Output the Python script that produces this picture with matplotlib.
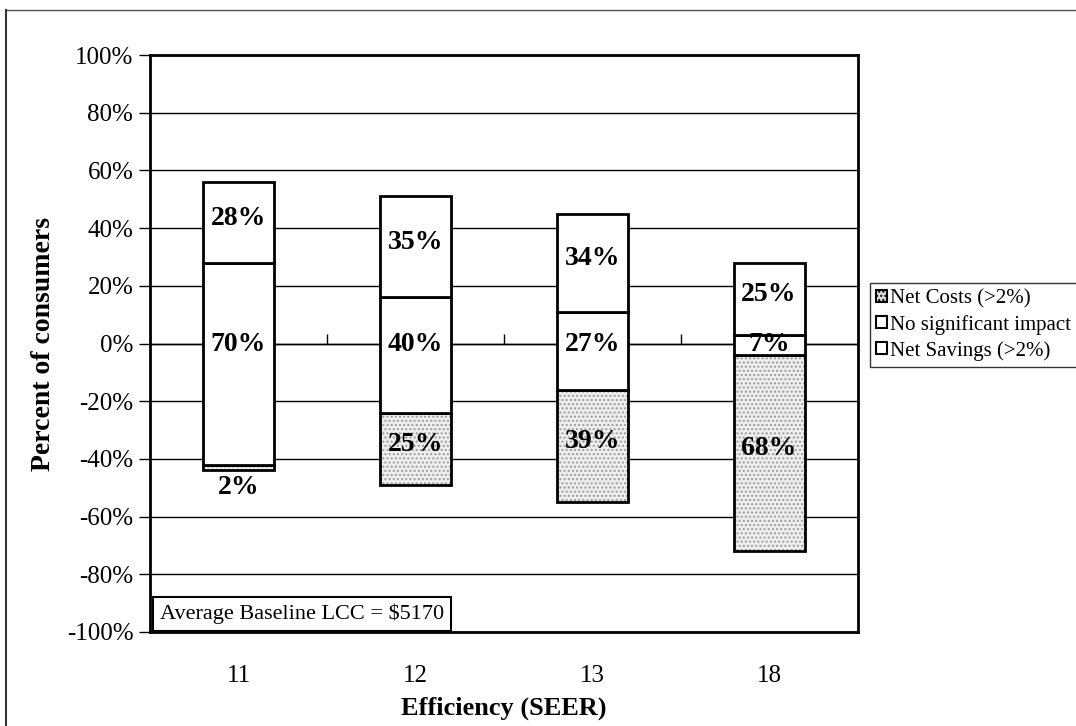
import numpy as np
import matplotlib
matplotlib.use("Agg")
import matplotlib.pyplot as plt
from matplotlib.patches import Patch
from matplotlib.lines import Line2D

plt.rcParams['font.family'] = ['Liberation Serif', 'DejaVu Serif']

# Consumer LCC impact by efficiency level
seer = ['11', '12', '13', '18']
net_costs = [2, 25, 39, 68]
no_impact = [70, 40, 27, 7]
net_savings = [28, 35, 34, 25]
# bottom of each stacked bar (hidden offset series)
offset = [-44, -49, -55, -72]

fig = plt.figure(figsize=(10.76, 7.26), dpi=100)
ax = fig.add_axes([0.1394, 0.1295, 0.6576, 0.7947])

x = np.arange(len(seer))
width = 0.4
costs = np.array(net_costs)
impact = np.array(no_impact)
savings = np.array(net_savings)
base = np.array(offset)

# stippled fill for net costs, then outlines
ax.bar(x, costs, width, bottom=base, facecolor='#eeeeee', edgecolor='#9c9c9c',
       hatch='....', linewidth=0, zorder=2)
ax.bar(x, costs, width, bottom=base, facecolor='none', edgecolor='black',
       linewidth=2, zorder=3)
ax.bar(x, impact, width, bottom=base + costs, facecolor='white',
       edgecolor='black', linewidth=2, zorder=3)
ax.bar(x, savings, width, bottom=base + costs + impact, facecolor='white',
       edgecolor='black', linewidth=2, zorder=3)

lbl = dict(ha='center', va='center', fontsize=20, fontweight='bold', zorder=5)
for i in range(len(seer)):
    top = base[i] + costs[i] + impact[i]
    ax.text(x[i], top + savings[i] / 2 + 1.5, f'{savings[i]}%', **lbl)
    ax.text(x[i], -0.5, f'{impact[i]}%', **lbl)
    if costs[i] < 5:
        ax.text(x[i], base[i] - 6, f'{costs[i]}%', **lbl)
    else:
        ax.text(x[i], base[i] + costs[i] / 2 + 1.5, f'{costs[i]}%', **lbl)

ax.set_xlim(-0.5, len(seer) - 0.5)
ax.set_ylim(-100, 100)
ax.set_yticks(np.arange(-100, 101, 20))
ax.set_yticklabels([f'{v}%' for v in range(-100, 101, 20)], fontsize=18)
ax.yaxis.grid(True, color='black', linewidth=1)
ax.set_axisbelow(True)
ax.tick_params(axis='y', length=8, width=1, pad=4)
ax.set_xticks(x)
ax.set_xticklabels(seer, fontsize=18)
ax.tick_params(axis='x', length=0, pad=24)
for s in ax.spines.values():
    s.set_linewidth(2)

# category axis crosses at zero with boundary ticks
ax.axhline(0, color='black', linewidth=1, zorder=1)
zax = ax.secondary_xaxis(0.5)
zax.set_xticks(np.arange(0.5, len(seer) - 1, 1.0))
zax.set_xticklabels([])
zax.tick_params(length=7, width=1, direction='out')
zax.spines['bottom'].set_visible(False)

ax.set_ylabel('Percent of consumers', fontsize=20, fontweight='bold', labelpad=8)
ax.set_xlabel('Efficiency (SEER)', fontsize=19, fontweight='bold', labelpad=7)

ax.text(0.014, -97.4, 'Average Baseline LCC = $5170', fontsize=16,
        transform=ax.get_yaxis_transform(), ha='left', va='bottom', zorder=6,
        bbox=dict(boxstyle='square,pad=0.3', facecolor='white',
                  edgecolor='black', linewidth=1.5))

handles = [
    Patch(facecolor='#dcdcdc', edgecolor='black', hatch='....', linewidth=1.5),
    Patch(facecolor='white', edgecolor='black', linewidth=1.5),
    Patch(facecolor='white', edgecolor='black', linewidth=1.5),
]
leg = fig.legend(handles, ['Net Costs (>2%)', 'No significant impact', 'Net Savings (>2%)'],
                 loc='upper left', bbox_to_anchor=(870 / 1076, 1 - 283 / 726),
                 fontsize=15, frameon=True, fancybox=False, edgecolor='black',
                 handlelength=0.5, handleheight=0.5, handletextpad=0.15,
                 labelspacing=0.3, borderpad=0.3, borderaxespad=0)
leg.get_frame().set_linewidth(1)

# outer chart border (top and left edges)
fig.add_artist(Line2D([6 / 1076, 1.0], [1 - 10 / 726] * 2, color='#555555',
                      linewidth=1, transform=fig.transFigure))
fig.add_artist(Line2D([6 / 1076] * 2, [0, 1 - 10 / 726], color='#333333',
                      linewidth=1.5, transform=fig.transFigure))

fig.savefig('out.png', dpi=100)
